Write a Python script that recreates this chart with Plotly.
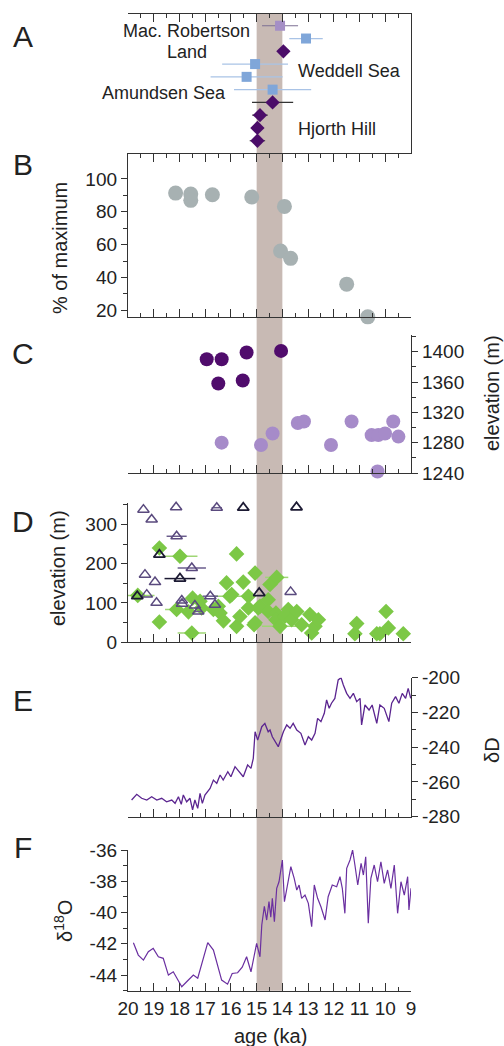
import plotly.graph_objects as go

# ---------------- data ----------------
# Panel A (index rows from top)
A_lp_age = [14.09]; A_lp_row = [1]; A_lp_err = [0.7]
A_bl_age = [13.08, 15.06, 15.39, 14.38]; A_bl_row = [2, 4, 5, 6]; A_bl_err = [0.65, 1.28, 1.4, 1.5]
A_dm_age = [13.96, 14.38, 14.87, 14.97, 14.97]; A_dm_row = [3, 7, 8, 9, 10]; A_dm_err = [0.1, 0.8, 0.3, 0.15, 0.3]

# Panel B
B_age = [18.15, 17.56, 17.56, 16.72, 15.19, 13.92, 14.07, 13.68, 11.50, 10.68]
B_pct = [91.4, 90.8, 87.0, 90.4, 89.0, 83.3, 56.2, 51.7, 36.0, 16.1]

# Panel C
C_dark_age = [16.94, 16.36, 15.39, 14.05, 16.49, 15.54]
C_dark_elev = [1390, 1390, 1399, 1401, 1358, 1362]
C_light_age = [16.36, 14.83, 14.38, 13.40, 13.16, 12.11, 11.31, 10.53, 10.27, 10.01, 9.69, 9.49, 10.30, 8.97]
C_light_elev = [1280, 1277, 1292, 1306, 1308, 1277, 1308, 1290, 1290, 1292, 1308, 1288, 1242, 1242]

# Panel D
D_tri_age = [19.40, 19.08, 18.13, 16.55, 18.11, 17.52, 19.34, 18.95, 19.27, 18.89, 17.91, 17.90, 17.40, 17.27, 16.80, 16.62, 13.68]
D_tri_elev = [338, 313, 344, 343, 270, 189, 172, 153, 121, 100, 106, 98, 93, 78, 117, 95, 128]
D_tri_err = [0, 0, 0, 0.2, 0.39, 0.55, 0, 0, 0, 0, 0.1, 0, 0, 0.15, 0.3, 0, 0]
D_trid_age = [15.52, 13.45, 18.78, 17.98, 19.64, 14.90]
D_trid_elev = [343, 344, 223, 162, 117, 125]
D_trid_err = [0, 0, 0, 0.6, 0, 0]
D_g_age = [19.62, 18.78, 17.98, 18.78, 18.11, 17.65, 17.49, 17.52, 17.20, 17.14, 16.68, 16.49, 16.42,
           16.29, 16.17, 16.04, 15.97, 15.78, 15.78, 15.65, 15.52, 15.32, 15.32, 15.10, 15.06, 15.06,
           14.94, 14.87, 14.55, 14.55, 14.48, 14.22, 14.25, 14.25, 14.09, 13.90, 13.77, 13.64, 13.44,
           13.25, 12.93, 12.86, 12.73, 12.60, 11.11, 11.18, 10.33, 10.21, 9.97, 9.88, 9.30]
D_g_elev = [119, 240, 219, 51, 83, 77, 112, 23, 104, 87, 83, 91, 74,
            54, 151, 117, 121, 225, 40, 65, 153, 117, 87, 44, 176, 49,
            87, 91, 108, 78, 147, 165, 74, 57, 40, 66, 83, 57, 78,
            44, 70, 23, 40, 57, 47, 21, 21, 21, 78, 36, 21]
D_g_err = [0.65, 0, 0.68, 0, 0.45, 0, 0, 0.55, 0, 0, 0, 0, 0,
           0, 0, 0.65, 0, 0, 0, 0, 0, 0, 0, 0, 0, 0,
           0, 0, 0, 0, 0, 0.45, 0, 0, 0.7, 0, 0, 0, 0,
           0, 0, 0, 0, 0, 0, 0, 0, 0, 0, 0, 0]

# Panel E (deltaD)
E_age = [19.86, 19.66, 19.47, 19.27, 19.08, 18.88, 18.69, 18.50, 18.30, 18.17, 18.04, 17.93, 17.85, 17.72,
         17.59, 17.49, 17.40, 17.29, 17.20, 17.11, 17.01, 16.81, 16.68, 16.55, 16.42, 16.30, 16.12, 16.00,
         15.84, 15.69, 15.52, 15.35, 15.22, 15.13, 15.06, 14.96, 14.80, 14.68, 14.55, 14.48, 14.39, 14.16,
         13.96, 13.83, 13.70, 13.58, 13.44, 13.28, 13.12, 12.99, 12.86, 12.73, 12.63, 12.50, 12.37, 12.28,
         12.18, 12.09, 11.96, 11.83, 11.72, 11.63, 11.50, 11.37, 11.24, 11.11, 10.98, 10.92, 10.79, 10.63,
         10.51, 10.33, 10.21, 10.04, 9.86, 9.75, 9.60, 9.47, 9.34, 9.21, 9.11, 9.01]
E_dD = [-270.4, -267.1, -269.4, -270.4, -268.5, -270.4, -269.4, -271.4, -270.4, -272.3, -268.5, -272.9,
        -267.5, -271.4, -269.4, -276.1, -270.4, -275.2, -266.6, -272.3, -267.5, -263.7, -258.9, -260.8,
        -256.0, -258.9, -254.1, -257.0, -251.2, -254.1, -257.0, -250.2, -252.2, -246.4, -231.1, -235.9,
        -228.2, -226.3, -231.1, -230.1, -234.0, -239.7, -231.1, -227.2, -229.1, -226.3, -230.1, -232.0,
        -238.7, -234.0, -235.9, -232.0, -223.4, -225.3, -220.5, -212.8, -217.6, -214.7, -211.9, -201.3,
        -200.0, -204.2, -209.0, -211.9, -209.0, -213.8, -211.9, -227.2, -215.7, -218.6, -215.7, -226.3,
        -215.7, -217.6, -225.3, -214.7, -210.9, -214.7, -209.0, -211.9, -206.1, -211.9]

# Panel F (delta18O)
F_age = [19.79, 19.60, 19.40, 19.21, 19.02, 18.82, 18.63, 18.43, 18.24, 17.91, 17.72, 17.46, 17.29, 16.90,
         16.68, 16.36, 16.13, 15.95, 15.74, 15.56, 15.39, 15.22, 15.00, 14.87, 14.80, 14.70, 14.61, 14.52,
         14.45, 14.39, 14.31, 14.22, 14.13, 14.05, 14.00, 13.92, 13.77, 13.67, 13.54, 13.44, 13.35, 13.25,
         13.12, 12.99, 12.86, 12.76, 12.63, 12.50, 12.34, 12.22, 12.06, 11.89, 11.76, 11.67, 11.57, 11.50,
         11.37, 11.27, 11.18, 11.07, 10.94, 10.85, 10.76, 10.66, 10.56, 10.43, 10.30, 10.17, 10.04, 9.91,
         9.78, 9.65, 9.52, 9.39, 9.26, 9.13, 9.08, 9.00]
F_d18O = [-41.93, -42.72, -43.04, -42.51, -42.29, -42.83, -42.93, -44.00, -43.79, -44.75, -44.43, -44.00,
          -44.20, -41.93, -42.40, -44.32, -44.58, -43.90, -43.85, -43.50, -42.83, -43.79, -41.97, -42.83,
          -40.80, -39.60, -40.48, -39.30, -40.30, -39.09, -40.59, -38.45, -38.03, -37.17, -36.64, -39.31,
          -38.03, -37.07, -37.81, -38.56, -38.24, -39.09, -38.88, -39.41, -40.91, -38.24, -39.09, -39.63,
          -40.48, -38.99, -38.24, -38.35, -37.71, -38.45, -40.05, -37.17, -36.64, -36.00, -36.96, -38.24,
          -36.85, -37.60, -36.43, -40.69, -37.81, -36.96, -38.03, -36.75, -38.13, -37.28, -38.45, -36.96,
          -40.05, -38.03, -38.88, -37.71, -39.84, -38.45]

x_ticks = list(range(20, 8, -1))
B_ticks = [20, 40, 60, 80, 100]
C_ticks = [1240, 1280, 1320, 1360, 1400]
D_ticks = [0, 100, 200, 300]
E_ticks = [-280, -260, -240, -220, -200]
F_ticks = [-44, -42, -40, -38, -36]
band = (15, 14)

# ---------------- styling ----------------
FONT = "Liberation Sans, Arial, sans-serif"
AX = "#333333"
TXT = "#222222"
W, H = 504, 1046

def py(top, bottom):
    return [1 - bottom / H, 1 - top / H]

XDOM = [128 / W, 411 / W]
doms = {
    1: py(14, 153.5),
    2: py(153.5, 317),
    3: py(335, 473),
    4: py(503, 642),
    5: py(677.7, 816.7),
    6: py(850, 990.7),
}

fig = go.Figure()

def sc(x, y, n, **kw):
    xa = "x" if n == 1 else f"x{n}"
    ya = "y" if n == 1 else f"y{n}"
    fig.add_trace(go.Scatter(x=x, y=y, xaxis=xa, yaxis=ya, showlegend=False, cliponaxis=False, **kw))

# A
sc(A_lp_age, A_lp_row, 1, mode="markers",
   marker=dict(symbol="square", size=10, color="#a58fc6"),
   error_x=dict(type="data", array=A_lp_err, color="#7d6f93", thickness=1.2, width=0))
sc(A_bl_age, A_bl_row, 1, mode="markers",
   marker=dict(symbol="square", size=10, color="#7fa6d9"),
   error_x=dict(type="data", array=A_bl_err, color="#a9c3e6", thickness=1.2, width=0))
sc(A_dm_age, A_dm_row, 1, mode="markers",
   marker=dict(symbol="diamond", size=11, color="#4b0d69"),
   error_x=dict(type="data", array=A_dm_err, color="#333333", thickness=1.2, width=0))

# B
sc(B_age, B_pct, 2, mode="markers", marker=dict(size=15, color="#a7b1b2"))

# C
sc(C_light_age, C_light_elev, 3, mode="markers", marker=dict(size=14, color="#a68bc9"))
sc(C_dark_age, C_dark_elev, 3, mode="markers", marker=dict(size=14, color="#500c6c"))

# D
sc(D_g_age, D_g_elev, 4, mode="markers",
   marker=dict(symbol="diamond", size=12, color="#7cc846"),
   error_x=dict(type="data", array=D_g_err, color="#9fd675", thickness=1.5, width=0))
sc(D_tri_age, D_tri_elev, 4, mode="markers",
   marker=dict(symbol="triangle-up-open", size=10, color="#5a4a7e", line=dict(width=1.5)),
   error_x=dict(type="data", array=D_tri_err, color="#6a5c8c", thickness=1.5, width=0))
sc(D_trid_age, D_trid_elev, 4, mode="markers",
   marker=dict(symbol="triangle-up-open", size=10, color="#1c1a33", line=dict(width=1.8)),
   error_x=dict(type="data", array=D_trid_err, color="#1c1a33", thickness=1.5, width=0))

# E, F
sc(E_age, E_dD, 5, mode="lines", line=dict(color="#5b2590", width=1.3))
sc(F_age, F_d18O, 6, mode="lines", line=dict(color="#6a2fa0", width=1.2))

tickfont = dict(family=FONT, size=19, color=TXT)

def hyph(vals):
    return [str(v).replace("\u2212", "-") for v in vals]

def xax(n, **kw):
    d = dict(domain=XDOM, range=[20, 9], anchor=("y" if n == 1 else f"y{n}"),
             showline=True, linecolor=AX, linewidth=1.3, ticks="inside", ticklen=8,
             tickcolor=AX, tickwidth=1.3, tickvals=x_ticks, showticklabels=False,
             minor=dict(dtick=0.5, tick0=0, ticks="inside", ticklen=4, tickcolor=AX, tickwidth=1.2),
             showgrid=False, zeroline=False, automargin=False, fixedrange=True)
    d.update(kw)
    return d

def yax(n, **kw):
    d = dict(domain=doms[n], anchor=("x" if n == 1 else f"x{n}"), showline=True, linecolor=AX,
             linewidth=1.3, ticks="outside", ticklen=6, tickcolor=AX, tickwidth=1.3,
             tickfont=tickfont, showgrid=False, zeroline=False, automargin=False)
    d.update(kw)
    return d

layout = dict(
    width=W, height=H, margin=dict(l=0, r=0, t=0, b=0),
    paper_bgcolor="white", plot_bgcolor="rgba(0,0,0,0)", template="none",
    font=dict(family=FONT, color=TXT),
)
layout["xaxis"] = xax(1, side="top")
layout["yaxis"] = yax(1, side="right", range=[11, 0.08], ticks="", showticklabels=False)
layout["xaxis2"] = xax(2, mirror="allticks")
layout["yaxis2"] = yax(2, range=[16, 115.5], tickvals=B_ticks, ticktext=hyph(B_ticks),
                       minor=dict(tickvals=[30, 50, 70, 90], ticks="outside", ticklen=4, tickcolor=AX))
layout["xaxis3"] = xax(3)
layout["yaxis3"] = yax(3, side="right", range=[1240, 1422], tickvals=C_ticks, ticktext=hyph(C_ticks),
                       minor=dict(tickvals=[1260, 1300, 1340, 1380, 1420], ticks="outside", ticklen=4, tickcolor=AX))
layout["xaxis4"] = xax(4)
layout["yaxis4"] = yax(4, range=[0, 355], tickvals=D_ticks, ticktext=hyph(D_ticks),
                       minor=dict(tickvals=[50, 150, 250, 350], ticks="outside", ticklen=4, tickcolor=AX))
layout["xaxis5"] = xax(5)
layout["yaxis5"] = yax(5, side="right", range=[-280, -200], tickvals=E_ticks, ticktext=hyph(E_ticks),
                       minor=dict(tickvals=[-270, -250, -230, -210], ticks="outside", ticklen=4, tickcolor=AX))
layout["xaxis6"] = xax(6, showticklabels=True, tickfont=tickfont, ticktext=hyph(x_ticks))
layout["yaxis6"] = yax(6, range=[-45, -36], tickvals=F_ticks, ticktext=hyph(F_ticks),
                       minor=dict(tickvals=[-45, -43, -41, -39, -37], ticks="outside", ticklen=4, tickcolor=AX))
fig.update_layout(**layout)

# shaded interval across all panels
fig.add_shape(type="rect", xref="x6", yref="paper", x0=band[0], x1=band[1],
              y0=doms[6][0], y1=doms[1][1], fillcolor="rgb(200,186,180)", line=dict(width=0), layer="below")

def ann(text, x, y, size=20, angle=0, xanchor="center", xref="paper", yref="paper"):
    fig.add_annotation(text=text, x=x, y=y, xref=xref, yref=yref, showarrow=False, textangle=angle,
                       font=dict(family=FONT, size=size, color=TXT), xanchor=xanchor, yanchor="middle")

# panel letters
for letter, ycen in zip("ABCDEF", [36, 165, 353, 521, 700, 847]):
    ann(letter, 23 / W, 1 - ycen / H, size=30)

# panel A labels
for txt, ax_, ay_ in [("Mac. Robertson", 17.71, 1.4), ("Land", 17.71, 3.05), ("Weddell Sea", 11.41, 4.56),
                      ("Amundsen Sea", 18.6, 6.23), ("Hjorth Hill", 11.88, 9.06)]:
    fig.add_annotation(text=txt, x=ax_, y=ay_, xref="x", yref="y", showarrow=False,
                       font=dict(family=FONT, size=18, color=TXT))

# axis titles
ann("% of maximum", 60 / W, 1 - 248 / H, angle=-90)
ann("elevation (m)", 492 / W, 1 - 393 / H, angle=-90)
ann("elevation (m)", 58 / W, 1 - 568 / H, angle=-90)
ann("δD", 492 / W, 1 - 750 / H, angle=-90)
ann("δ<sup>18</sup>O", 63 / W, 1 - 921 / H, angle=-90)
ann("age (ka)", 270 / W, 1 - 1036 / H)

fig.write_html("out.html")
